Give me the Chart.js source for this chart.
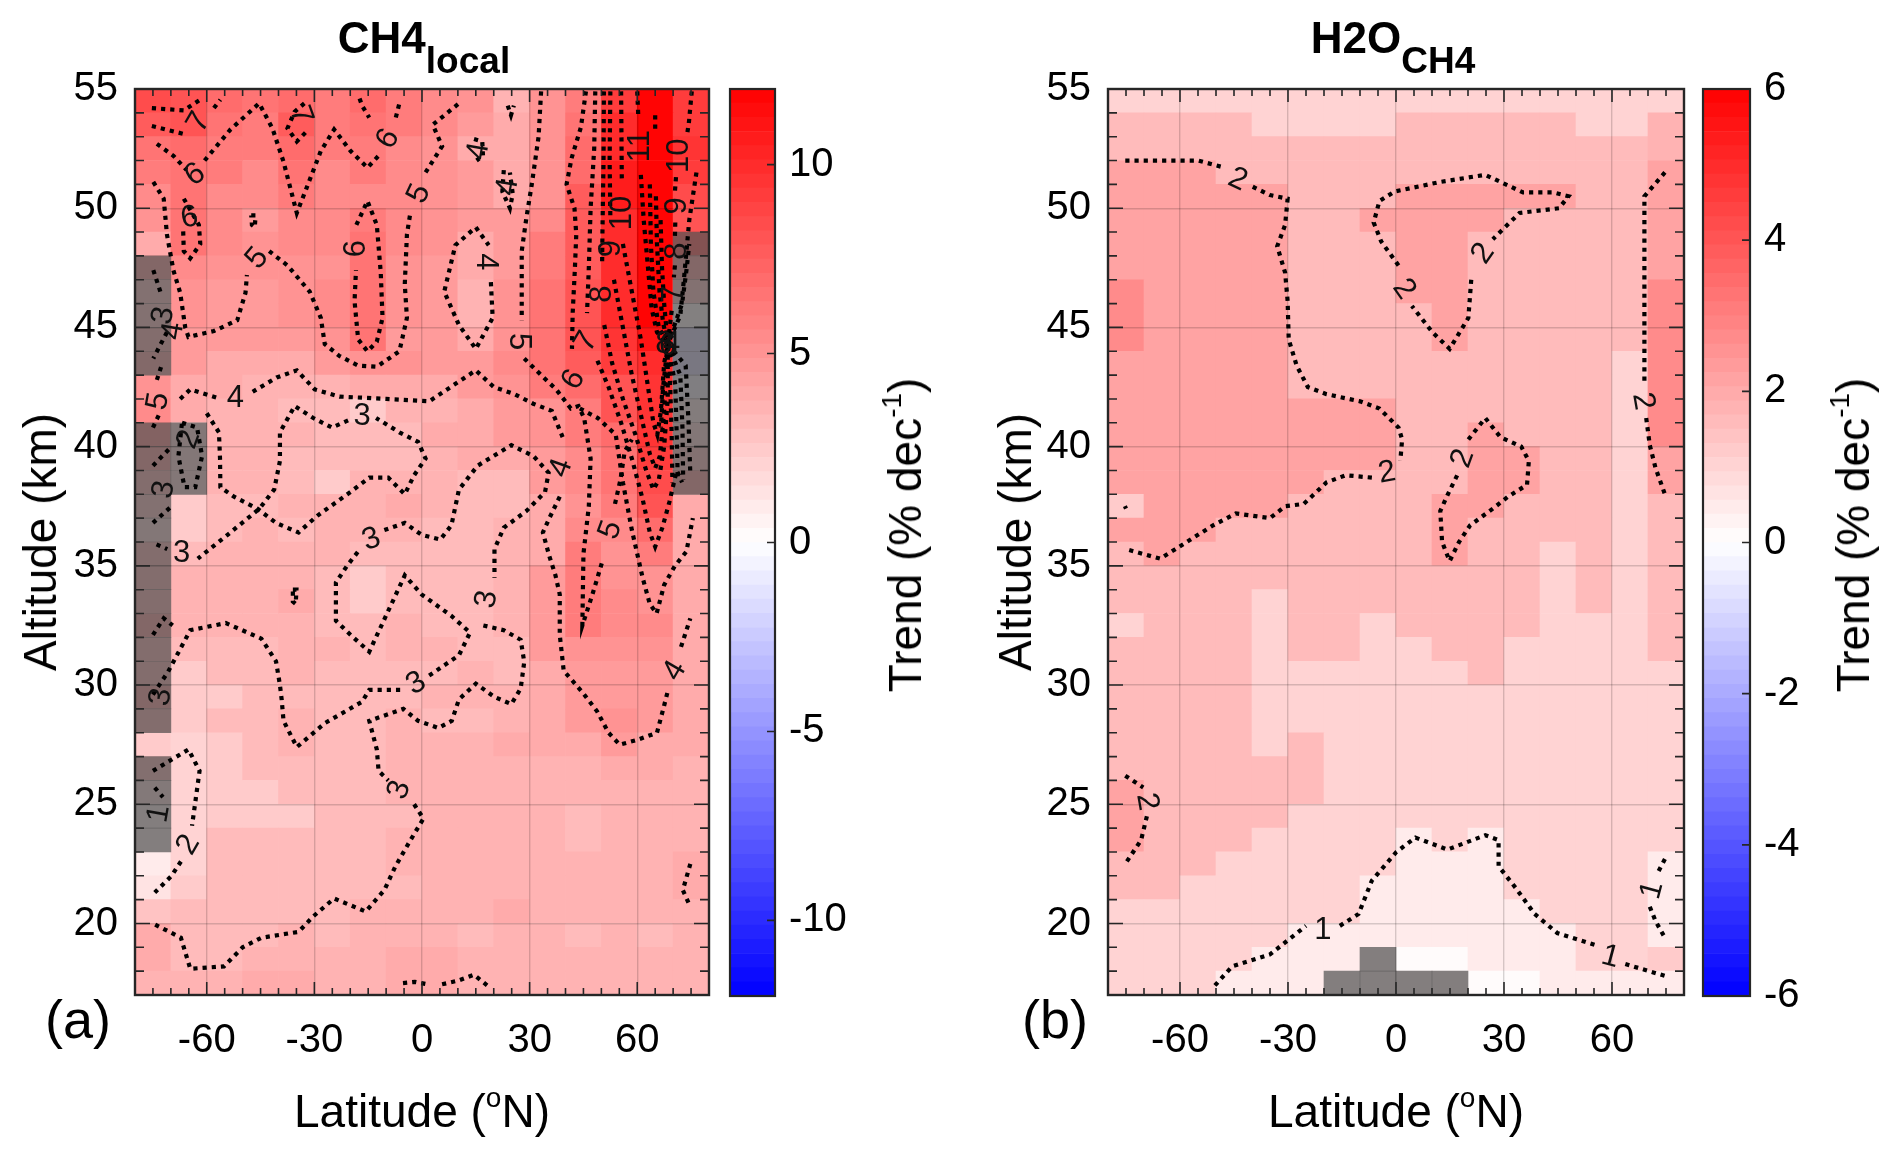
<!DOCTYPE html>
<html>
<head>
<meta charset="utf-8">
<script src="https://cdn.jsdelivr.net/npm/chart.js@4.4.1/dist/chart.umd.min.js"></script>
<style>
  body { margin: 0; background: #fff; width: 1892px; height: 1156px; position: relative; overflow: hidden;
         font-family: "Liberation Sans", Arial, Helvetica, sans-serif; color: #000; }
  .box { position: absolute; }
  .txt { position: absolute; white-space: nowrap; line-height: 1; }
  .rot { transform: translate(-50%, -50%) rotate(-90deg); }
  .title { font-weight: bold; font-size: 44px; text-align: center; }
  .title span { font-size: 37px; position: relative; top: 20px; }
  .axis { font-size: 46px; }
  .axis sup { font-size: 28px; position: relative; top: -4px; vertical-align: top; }
  .panel { font-size: 54px; }
</style>
</head>
<body>

<div class="box" style="left:0;top:0;width:720px;height:1156px"><canvas id="mapA" width="720" height="1156"></canvas></div>
<div class="box" style="left:725px;top:0;width:200px;height:1156px"><canvas id="barA" width="200" height="1156"></canvas></div>
<div class="box" style="left:975px;top:0;width:720px;height:1156px"><canvas id="mapB" width="720" height="1156"></canvas></div>
<div class="box" style="left:1698px;top:0;width:194px;height:1156px"><canvas id="barB" width="194" height="1156"></canvas></div>

<div class="txt title" style="left:0;width:848px;top:16px">CH4<span>local</span></div>
<div class="txt title" style="left:950px;width:886px;top:16px">H2O<span>CH4</span></div>
<div class="txt panel" style="left:45px;top:992px">(a)</div>
<div class="txt panel" style="left:1022px;top:992px">(b)</div>
<div class="txt axis" style="left:0;width:844px;top:1088px;text-align:center">Latitude (<sup>o</sup>N)</div>
<div class="txt axis" style="left:975px;width:842px;top:1088px;text-align:center">Latitude (<sup>o</sup>N)</div>
<div class="txt axis rot" style="left:40px;top:542px">Altitude (km)</div>
<div class="txt axis rot" style="left:1015px;top:542px">Altitude (km)</div>
<div class="txt axis rot" style="left:905px;top:535px">Trend (% dec<sup>-1</sup>)</div>
<div class="txt axis rot" style="left:1853px;top:535px">Trend (% dec<sup>-1</sup>)</div>

<script>
// grid of the two panels: 10 deg latitude bins, 1 km altitude bins
const latCenters = [-75, -65, -55, -45, -35, -25, -15, -5, 5, 15, 25, 35, 45, 55, 65, 75];
const altCenters = [54.5, 53.5, 52.5, 51.5, 50.5, 49.5, 48.5, 47.5, 46.5, 45.5, 44.5, 43.5, 42.5,
  41.5, 40.5, 39.5, 38.5, 37.5, 36.5, 35.5, 34.5, 33.5, 32.5, 31.5, 30.5, 29.5, 28.5, 27.5,
  26.5, 25.5, 24.5, 23.5, 22.5, 21.5, 20.5, 19.5, 18.5, 17.5];
const latTicks = [-60, -30, 0, 30, 60];
const altTicks = [20, 25, 30, 35, 40, 45, 50, 55];
const trendTicksCH4 = [-10, -5, 0, 5, 10];
const trendTicksH2O = [-6, -4, -2, 0, 2, 4, 6];

// (a) CH4 local trend, % per decade, rows top (54.5 km) to bottom (17.5 km)
const trendCH4 = [
  [8.5, 8, 7, 6.5, 7, 6, 7, 6, 5.5, 5, 3.5, 5, 6, 9, 12, 9],
  [7.5, 8, 6.5, 6, 7.5, 6, 6.5, 6, 5.5, 4.5, 4, 5, 6.5, 10, 12, 9],
  [6.5, 7, 6, 6, 7, 6, 6, 5.5, 5, 4, 4, 5, 7, 10, 12, 9.5],
  [6, 6.5, 6, 5.5, 6.5, 5.5, 6, 5.5, 5, 4.5, 4, 5, 7, 10.5, 12, 9],
  [5.5, 6.5, 5.5, 5.5, 6, 5.5, 5.5, 5.5, 5, 4.5, 4, 5, 7.5, 10.5, 12, 8.5],
  [5, 6.5, 5.5, 4.5, 5.5, 5.5, 6, 5.5, 5, 4.5, 4.5, 5.5, 7.5, 10, 12, 8],
  [4, 6.5, 5.5, 5, 5.5, 5.5, 6.5, 5.5, 5, 4, 4.5, 6, 7.5, 10, 12, 9],
  [5, 5.5, 5, 5, 5, 5, 6.5, 5, 4.5, 4, 4.5, 6, 7.5, 10, 12, 5],
  [3, 5, 4.5, 4.5, 5, 5.5, 6.5, 5, 4.5, 3.5, 5, 6.5, 8, 10, 12, 3],
  [3, 5, 4.5, 4.5, 5, 5.5, 6.5, 5, 4.5, 3.5, 5, 6.5, 8, 10, 12, 0],
  [4, 4.5, 4.5, 4.5, 4.5, 5, 6.5, 4.5, 4.5, 4, 5, 6.5, 8, 9.5, 11, -2],
  [4.5, 4.5, 4, 4, 4, 4.5, 5, 5, 4.5, 4.5, 5.5, 6.5, 7.5, 9, 10, -2],
  [5, 4, 4, 3.5, 3.5, 3.5, 4, 4, 4, 4.5, 5, 6, 7, 8, 9.5, -0.5],
  [5.5, 4, 3.5, 3.5, 3, 3, 2.5, 3.5, 3.5, 4, 4.5, 5, 6, 8, 9.5, 1],
  [6, 2, 3.5, 3.5, 3.5, 3, 3, 3, 4, 4, 4.5, 5, 6, 7, 9.5, 2],
  [5, 2, 3.5, 3.5, 3, 3, 3, 3, 3.5, 4, 4, 4.5, 5.5, 6.5, 9, 3],
  [4, 2, 3.5, 3.5, 3, 2.5, 3.5, 3.5, 3.5, 3, 3, 4.5, 5.5, 6.5, 8.5, 5],
  [3, 2.5, 3, 3, 3.5, 3.5, 3.5, 4, 3.5, 3, 3, 4, 5, 6, 8, 4],
  [2, 2.5, 3, 3.5, 3, 3.5, 3.5, 3.5, 3, 3, 3.5, 4, 5.5, 5.5, 7, 4],
  [4, 3, 3.5, 3.5, 3.5, 3.5, 3, 3, 3, 3, 3.5, 4, 6, 5, 6, 4],
  [4, 3.5, 3.5, 3.5, 3.5, 3, 2.5, 3, 3, 3, 3.5, 4.5, 6, 5, 5, 4],
  [4, 3.5, 3.5, 3.5, 4, 3, 2.5, 3, 3, 3, 3.5, 4.5, 6, 5.5, 5, 4],
  [5, 3.5, 3.5, 3.5, 3.5, 3, 3, 3.5, 3, 3, 3.5, 4.5, 6, 5.5, 5.5, 4],
  [4, 3, 3, 3, 3.5, 3.5, 3, 3.5, 3.5, 3, 3, 4.5, 5, 5, 5, 4],
  [4, 2.5, 3, 3, 3.5, 3, 3, 3, 3, 3.5, 3, 4, 4.5, 4.5, 4.5, 4],
  [5, 2.5, 2.5, 3, 3, 3, 3, 3, 3.5, 3.5, 3.5, 4, 4.5, 4.5, 4.5, 4],
  [4, 2.5, 3, 3, 3.5, 3, 3, 3.5, 3, 3, 3.5, 4, 4.5, 5, 4.5, 4],
  [2.5, 2, 2.5, 3, 3.5, 3, 3, 3.5, 3.5, 3.5, 4, 4, 4, 4.5, 4, 4],
  [3.5, 2, 2.5, 3, 3, 3, 3, 3.5, 3.5, 3.5, 3.5, 3.5, 3.5, 4, 4, 3.5],
  [1.5, 2, 2.5, 2.5, 3, 3, 3, 3.5, 3.5, 3.5, 3.5, 3.5, 3.5, 3.5, 3.5, 3.5],
  [0.5, 2, 2.5, 2.5, 2.5, 3, 3, 3, 3.5, 3.5, 3.5, 3.5, 3, 3.5, 3.5, 3.5],
  [0.5, 2, 3, 3, 3, 3, 3, 3.5, 3.5, 3.5, 3.5, 3.5, 3, 3.5, 3.5, 3.5],
  [0.8, 2, 3, 3, 3, 3, 3, 3.5, 3.5, 3.5, 3.5, 3.5, 3.5, 3.5, 3.5, 4],
  [1.3, 2.5, 3, 3, 3, 3, 3, 3, 3.5, 3.5, 3.5, 3.5, 3.5, 3.5, 3.5, 4],
  [2.8, 3, 3, 3, 3, 3, 3.5, 3.5, 3.5, 3.5, 4, 3.5, 3.5, 3.5, 3.5, 3.5],
  [3.8, 3, 3, 3, 3.5, 3, 3.5, 3.5, 3.5, 3, 3.5, 3.5, 3, 3.5, 3, 3.5],
  [4, 3, 3, 3.5, 3.5, 3.5, 3.5, 4, 4, 3.5, 3.5, 3.5, 3.5, 3.5, 3.5, 3.5],
  [3.5, 3.5, 3.5, 4, 4, 3.5, 3.5, 4, 4, 3.5, 3.5, 3.5, 3.5, 3.5, 3.5, 3.5]
];

// (b) H2O from CH4 trend, % per decade
const trendH2O = [
  [1, 1, 1, 1, 1, 1, 1, 1, 1, 1, 1, 1, 1, 1, 1, 1],
  [1.6, 1.6, 1.6, 1.6, 1, 1, 1, 1, 1.6, 1.6, 1.6, 1.6, 1.6, 1, 1, 1.7],
  [1.6, 1.6, 1.6, 1.6, 1.6, 1.6, 1.6, 1.6, 1.6, 1.6, 1.6, 1.6, 1.6, 1.6, 1.6, 1.7],
  [2.1, 2.1, 2.1, 1.6, 1.6, 1.6, 1.6, 1.6, 1.6, 1.6, 1.6, 1.6, 1.6, 1.6, 1.6, 2.1],
  [2.1, 2.1, 2.1, 2.1, 2.1, 1.6, 1.6, 1.6, 2.1, 2.1, 2.1, 2.1, 2.1, 1.6, 1.6, 2.1],
  [2.1, 2.1, 2.1, 2.1, 2.1, 1.6, 1.6, 2.1, 2.1, 2.1, 2.1, 1.6, 1.6, 1.6, 1.6, 2.1],
  [2.1, 2.1, 2.1, 2.1, 2.1, 1.6, 1.6, 1.6, 2.1, 2.1, 1.6, 1.6, 1.6, 1.6, 1.6, 2.1],
  [2.1, 2.1, 2.1, 2.1, 2.1, 1.6, 1.6, 1.6, 2.1, 2.1, 1.6, 1.6, 1.6, 1.6, 1.6, 2.1],
  [2.7, 2.1, 2.1, 2.1, 2.1, 1.6, 1.6, 1.6, 2.1, 2.1, 1.6, 1.6, 1.6, 1.6, 1.6, 2.7],
  [2.7, 2.1, 2.1, 2.1, 2.1, 1.6, 1.6, 1.6, 1.6, 2.1, 1.6, 1.6, 1.6, 1.6, 1.6, 2.7],
  [2.7, 2.1, 2.1, 2.1, 2.1, 1.6, 1.6, 1.6, 1.6, 2.1, 1.6, 1.6, 1.6, 1.6, 1.6, 2.7],
  [2.1, 2.1, 2.1, 2.1, 2.1, 1.6, 1.6, 1.6, 1.6, 1.6, 1.6, 1.6, 1.6, 1.6, 1, 2.7],
  [2.1, 2.1, 2.1, 2.1, 2.1, 1.6, 1.6, 1.6, 1.6, 1.6, 1.6, 1.6, 1.6, 1.6, 1, 2.7],
  [2.1, 2.1, 2.1, 2.1, 2.1, 2.1, 2.1, 2.1, 1.6, 1.6, 1.6, 1.6, 1.6, 1.6, 1, 2.7],
  [2.1, 2.1, 2.1, 2.1, 2.1, 2.1, 2.1, 2.1, 1.6, 1.6, 2.1, 1.6, 1.6, 1.6, 1, 2.7],
  [2.1, 2.1, 2.1, 2.1, 2.1, 2.1, 2.1, 2.1, 1.6, 1.6, 2.1, 2.1, 1.6, 1.6, 1, 2.1],
  [2.1, 2.1, 2.1, 2.1, 2.1, 2.1, 1.6, 1.6, 1.6, 1.6, 2.1, 2.1, 1.6, 1.6, 1, 2.1],
  [1.3, 2.1, 2.1, 2.1, 2.1, 1.6, 1.6, 1.6, 1.6, 2.1, 2.1, 1.6, 1.6, 1.6, 1, 1.6],
  [2.1, 2.1, 2.1, 1.6, 1.6, 1.6, 1.6, 1.6, 1.6, 2.1, 1.6, 1.6, 1.6, 1.6, 1, 1.6],
  [1.6, 2.1, 1.6, 1.6, 1.6, 1.6, 1.6, 1.6, 1.6, 2.1, 1.6, 1.6, 1, 1.6, 1, 1.6],
  [1.6, 1.6, 1.6, 1.6, 1.6, 1.6, 1.6, 1.6, 1.6, 1.6, 1.6, 1.6, 1, 1.6, 1, 1.6],
  [1.6, 1.6, 1.6, 1.6, 1, 1.6, 1.6, 1.6, 1.6, 1.6, 1.6, 1.6, 1, 1.6, 1, 1.6],
  [1, 1.6, 1.6, 1.6, 1, 1.6, 1.6, 1, 1.6, 1.6, 1.6, 1.6, 1, 1, 1, 1.6],
  [1.6, 1.6, 1.6, 1.6, 1, 1.6, 1.6, 1, 1, 1.6, 1.6, 1, 1, 1, 1, 1.6],
  [1.6, 1.6, 1.6, 1.6, 1, 1, 1, 1, 1, 1, 1.6, 1, 1, 1, 1, 1],
  [1.6, 1.6, 1.6, 1.6, 1, 1, 1, 1, 1, 1, 1, 1, 1, 1, 1, 1],
  [1.6, 1.6, 1.6, 1.6, 1, 1, 1, 1, 1, 1, 1, 1, 1, 1, 1, 1],
  [1.6, 1.6, 1.6, 1.6, 1, 1.6, 1, 1, 1, 1, 1, 1, 1, 1, 1, 1],
  [1.6, 1.6, 1.6, 1.6, 1.6, 1.6, 1, 1, 1, 1, 1, 1, 1, 1, 1, 1],
  [2.1, 1.6, 1.6, 1.6, 1.6, 1.6, 1, 1, 1, 1, 1, 1, 1, 1, 1, 1],
  [2.1, 1.6, 1.6, 1.6, 1.6, 1, 1, 1, 1, 1, 1, 1, 1, 1, 1, 1],
  [2.1, 1.6, 1.6, 1.6, 1, 1, 1, 1, 0.5, 1, 0.5, 1, 1, 1, 1, 1],
  [1.6, 1.6, 1.6, 1, 1, 1, 1, 1, 0.5, 0.5, 0.5, 1, 1, 1, 1, 0.5],
  [1.6, 1.6, 1, 1, 1, 1, 1, 0.5, 0.5, 0.5, 0.5, 1, 1, 1, 1, 0.5],
  [1, 1, 1, 1, 1, 1, 1, 0.5, 0.5, 0.5, 0.5, 0.5, 1, 1, 1, 0.5],
  [1, 1, 1, 1, 1, 0.5, 0.5, 0.5, 0.5, 0.5, 0.5, 0.5, 0.5, 1, 1, 0.5],
  [1, 1, 1, 1, 0.5, 0.5, 0.5, 0.3, 0.1, 0.1, 0.5, 0.5, 0.5, 1, 1, 1.3],
  [1, 1, 1, 0.5, 0.5, 0.5, 0.3, 0.3, 0.3, 0.3, 0.1, 0.1, 0.5, 0.5, 0.5, 0.5]
];

// greyed-out bins: [latitude centre, altitude from, altitude to]
const maskCH4 = [[-75, 43, 48], [-75, 28, 41], [-75, 23, 27], [-65, 38, 41], [75, 38, 49]];
const maskH2O = [[-15, 17, 18], [-5, 17, 19], [5, 17, 18], [15, 17, 18]];

// contour lines, [latitude, altitude] points
const contoursCH4 = [
  [[-75.3, 54.2], [-66.4, 54.1], [-61.3, 54.6]],
  [[-75.3, 53.45], [-66, 53.1]],
  [[-58, 54.2], [-56.2, 54.55]],
  [[-73.9, 52.7], [-69.3, 52.2], [-65.6, 51.6]],
  [[-60.6, 52.0], [-53.4, 53.3], [-45.4, 54.4], [-41.7, 53.35], [-38.6, 51.95], [-34.9, 49.8], [-32.3, 50.8],
   [-28.2, 52.4], [-24.5, 53.3], [-19.9, 52.4], [-15.2, 51.7], [-12.1, 52.2]],
  [[-7.3, 53.8], [-6.3, 54.4]],
  [[-32.8, 54.4], [-35.5, 54.05], [-37.5, 53.35], [-34.9, 52.8], [-32.3, 53.2]],
  [[-17.4, 54.6], [-16.7, 54.3], [-14.7, 53.8]],
  [[-66.4, 50.4], [-62.2, 49.3], [-61.8, 48.5], [-64.6, 47.9], [-66.4, 48.2], [-66.6, 49.2]],
  [[-74.9, 51.1], [-72, 50.4], [-71.1, 48.9], [-69.3, 47.4], [-67.4, 46.45], [-66, 45], [-65.1, 44.6],
   [-58, 44.85], [-51.5, 45.3], [-49.2, 46.45], [-48.8, 47.2]],
  [[-42.6, 48.2], [-37.5, 47.6], [-31.3, 46.5], [-28.2, 45.4], [-27.1, 44.3], [-23, 43.8], [-17.8, 43.4],
   [-12.6, 43.35], [-6.3, 44], [-4.2, 45.4], [-4.8, 46.8], [-4.2, 48.9], [-3.2, 49.85]],
  [[1, 51.5], [5.6, 52.6], [3, 53.5], [10.3, 54.4]],
  [[-18.3, 49.3], [-15.2, 50.3], [-12.6, 49.3], [-11.5, 47.3], [-11, 45.4], [-12.6, 44.4], [-15.2, 44.0],
   [-17.8, 44.5], [-18.8, 46.1], [-18.4, 47.4]],
  [[15, 49.2], [18.6, 48.45]],
  [[19.2, 46.9], [19.7, 45.4], [15, 44.1], [10.3, 45.1], [6.2, 46.5], [9.3, 48.45], [15, 49.2]],
  [[14.5, 52.9], [16.8, 52.8], [17, 52.2], [15.2, 52.0]],
  [[22.8, 51.6], [22.4, 50.7], [24.5, 50.0], [25.3, 50.6], [24.5, 51.5]],
  [[23.9, 54.3], [24.8, 53.9], [25.6, 54.3]],
  [[-47.6, 49.7], [-46.4, 49.7], [-46.6, 49.2], [-47.4, 49.3], [-47.6, 49.7]],
  [[33.2, 54.9], [32.5, 53], [30.6, 51], [29.1, 49.6], [27.8, 48.2], [27.8, 46.5], [27.8, 45.3]],
  [[28.5, 43.7], [33.2, 43.0], [37.4, 42.4], [41.5, 41.6], [43.6, 41.7], [45.2, 41.2], [47, 39.5],
   [46.5, 37.5], [45, 35.5], [44.7, 32.5], [47.5, 33.8], [50.5, 35.3]],
  [[53.8, 37.6], [55.3, 38.6], [56.5, 39.8], [58.5, 40.3]],
  [[45.7, 54.9], [44.3, 53.4], [41.7, 52.1], [40.3, 51.0], [42.5, 50.0], [43, 48.9], [42.6, 47.4], [42, 45.6], [41.8, 44.1]],
  [[44, 41.6], [49, 41.2], [54, 40.5], [56, 38.5], [58.5, 36.5], [61.5, 34.5], [63.5, 33.4], [65.4, 33.0],
   [67.5, 34.2], [70.5, 35.0], [73.7, 35.6], [75.5, 37]],
  [[48.3, 54.9], [48, 52.5], [47, 50], [46.5, 47.5], [46, 45.6]],
  [[48.9, 43.6], [52, 42.5], [55.5, 41], [58.5, 39.5], [61.5, 37.8], [63.5, 36.4], [65, 35.8], [67, 36.6],
   [69, 37.7], [71, 39], [72.5, 38.5]],
  [[50.7, 54.9], [50.6, 52], [50.3, 49], [50.2, 47.6]],
  [[50.8, 45.1], [53, 43.5], [56, 42], [59.5, 40.5], [62.5, 39], [64.5, 38.2], [66, 38.6], [67.5, 40], [68.5, 42], [68.5, 44.3]],
  [[52.5, 54.9], [52.3, 52], [52.5, 49.6]],
  [[53.5, 47], [56, 45], [58.5, 43], [61.5, 41], [63.5, 39.7], [65, 39.1], [66.3, 39.6], [67.5, 41.5], [68.5, 44.3]],
  [[55.5, 54.9], [55.6, 53], [55.7, 51.1]],
  [[56, 48.5], [58.5, 46.5], [61, 44.5], [63, 42.5], [64.5, 41], [65.6, 40.5], [66.6, 41.5], [67.5, 43.5], [68.5, 44.3]],
  [[60, 54.9], [60.3, 53.8]],
  [[61, 51.4], [61.8, 49.5], [63, 47.5], [64, 45.8], [65.5, 44.8], [68.5, 44.3]],
  [[65, 53.9], [65, 53.2]],
  [[63.5, 51], [63.8, 48.5], [64.5, 46.5], [66, 45], [68.5, 44.3]],
  [[65.2, 50.5], [65.5, 48.5], [66.2, 46.5], [67.2, 45.2], [68.5, 44.3]],
  [[66.5, 49.5], [66.9, 47.5], [67.5, 46], [68.5, 44.3]],
  [[75.2, 54.9], [74.4, 53.6], [73.8, 53.0]],
  [[70.8, 51.3], [70.5, 50.7]],
  [[70.6, 49.4], [70.5, 48.8]],
  [[70.5, 47.6], [70.2, 47.1]],
  [[69.6, 45.7], [68.5, 44.3]],
  [[76.5, 51.5], [74.5, 49.5], [73, 47], [72, 45.5], [68.5, 44.3]],
  [[68.5, 44.3], [69.2, 42.5], [69.6, 40.5], [69.8, 38.5]],
  [[68.5, 44.3], [70.6, 42.6], [71, 40.5], [71.3, 38.6]],
  [[68.5, 44.3], [72, 43], [72.6, 40.8], [72.8, 38.6]],
  [[68.5, 44.3], [73.5, 43.4], [74.3, 41], [74.8, 38.8]],
  [[68.5, 44.3], [72.5, 46], [73.8, 47.5], [74.5, 48.5]],
  [[68.5, 44.3], [67.2, 42.5], [66.6, 40.8]],
  [[-67.4, 42.0], [-64.6, 42.4], [-56.2, 42.0]],
  [[-47.2, 42.3], [-40.5, 42.9], [-34.9, 43.2], [-29.9, 42.4], [-23, 42.1], [-10, 42.0], [2, 41.9], [8, 42.5],
   [15, 43.2], [20, 42.5], [25.8, 42.2], [31, 41.8], [36.2, 41.5], [39.2, 40.4]],
  [[38.4, 37.9], [35.5, 37.0], [33.7, 36.4], [35.5, 35.4], [37.2, 34.6], [38.4, 33.8], [38.4, 32.1], [39.5, 30.6],
   [44.7, 29.7], [48.8, 28.9], [52, 28], [55.1, 27.5], [60, 27.7], [65.5, 28.0], [67.6, 29.2], [68.6, 29.8]],
  [[72.2, 31.6], [74.8, 32.8]],
  [[-60, 41.4], [-56.6, 40.6], [-56.3, 39.5], [-56.2, 38.3], [-52.4, 37.9], [-45.9, 37.4], [-40.7, 36.8],
   [-34.4, 36.4], [-29.2, 37.1], [-19.9, 38.1], [-14.7, 38.7], [-9.4, 38.7], [-4.8, 38.0], [-2.2, 38.8],
   [1.0, 39.5], [-1.1, 40.2], [-6.3, 40.6], [-12.8, 41.2]],
  [[-20.6, 41.1], [-25.1, 40.8], [-30.3, 41.2], [-35.5, 41.7], [-39.6, 40.6], [-39.6, 39.4], [-41.2, 38.2],
   [-45.3, 37.4], [-54.2, 36.3], [-62.5, 35.3]],
  [[-66.9, 41.0], [-62.7, 40.8], [-61.3, 39.6], [-63.2, 38.3], [-66.2, 38.3], [-67.9, 39.6], [-66.9, 41.0]],
  [[-74.9, 47.4], [-72.5, 46.3]],
  [[-71.1, 44.8], [-74.9, 43.7]],
  [[-73.9, 42.8], [-72.6, 43.4]],
  [[-75, 40.8], [-72.8, 41.5]],
  [[-75, 39.2], [-70.5, 39.9]],
  [[-75, 36.8], [-69.8, 37.5]],
  [[-74, 35.9], [-71, 35.7]],
  [[-75, 32.1], [-72, 32.8], [-69.5, 32.5]],
  [[-75, 29.6], [-70.8, 30.55], [-64.6, 32.3], [-54.7, 32.6], [-44.8, 31.95], [-40.7, 31.0], [-39.6, 30.0],
   [-39.1, 29.37], [-38.6, 28.5], [-34.9, 27.4], [-27.1, 28.4], [-16.7, 29.3], [-14.7, 29.8], [-5.3, 29.8]],
  [[2, 30.4], [3.0, 30.5], [10.3, 31.25], [13.4, 32.2], [8.2, 32.9], [-0.1, 33.8], [-4.8, 34.6], [-14.7, 31.4],
   [-19.9, 32.1], [-24, 32.7], [-24, 34.3], [-20.9, 35.0], [-17.8, 35.6]],
  [[-10.5, 36.5], [-4.8, 36.8], [-0.1, 36.3], [5.1, 36.1], [8.2, 36.7], [10.3, 38.2], [15.5, 39.2], [24.9, 40.06],
   [31.1, 39.6], [35.3, 38.9], [34.3, 38.1], [29.1, 37.3], [22.8, 36.6], [20.2, 35.7], [20.2, 34.5]],
  [[17.1, 32.5], [22.8, 32.3], [27.5, 31.9], [28.5, 30.97], [27.5, 29.85], [24.9, 29.2], [20.2, 29.5], [15.0, 30.06],
   [10.3, 29.4], [8.3, 28.5], [4.6, 28.2], [-1.1, 28.5], [-5.2, 29.0], [-14.7, 28.5], [-12.6, 27.3], [-12.1, 26.4],
   [-9.4, 26.0]],
  [[-2.2, 25.0], [0.4, 24.4], [-3.2, 23.5], [-7.4, 22.4], [-10.5, 21.4], [-15.7, 20.5], [-24.5, 21.05], [-30.3, 20.3],
   [-34.4, 19.65], [-44.8, 19.4], [-50, 19.0], [-55.2, 18.2], [-64.6, 18.1], [-67.2, 19.4], [-75, 20.0]],
  [[-36, 34], [-35, 34], [-35.2, 33.4], [-36, 33.5], [-36, 34]],
  [[-75, 26.4], [-65.1, 27.3], [-62, 26.4], [-63, 25.3], [-64.1, 24.1]],
  [[-67.2, 22.6], [-69.8, 22.0], [-74.5, 21.3]],
  [[-74.5, 25.7], [-72.2, 25.3]],
  [[-5.3, 17.5], [-2, 17.55], [1.5, 17.45]],
  [[5.6, 17.45], [10, 17.6], [14.5, 17.85], [18.6, 17.35]],
  [[74.8, 22.5], [72.7, 21.4], [74.8, 20.7]]
];
const labelsCH4 = [
  ["7", -62.2, 53.6, -60], ["6", -63.2, 51.4, -35], ["6", -9.4, 52.9, -60], ["7", -33.8, 53.9, 70],
  ["6", -64.8, 49.6, -10], ["5", -45.9, 47.9, -50], ["5", -0.8, 50.6, -65], ["6", -18.3, 48.3, -90],
  ["4", 17.6, 47.75, 90], ["4", 15.8, 52.4, -80], ["4", 23.9, 50.9, -80], ["5", 27, 44.4, 90],
  ["5", 52.6, 36.5, -70], ["6", 42.3, 42.8, -60], ["7", 45.8, 44.4, -60], ["8", 50.3, 46.4, -90],
  ["9", 52.8, 48.3, -90], ["10", 55.8, 49.8, -90], ["11", 60.8, 52.6, -90], ["10", 71.8, 52.2, -90],
  ["9", 71.1, 50.1, -90], ["8", 71.1, 48.2, -90], ["7", 70.3, 46.4, -90], ["4", -52, 42, 0],
  ["4", 38.8, 39.1, -70], ["4", 70.5, 30.6, -60], ["3", -16.7, 41.25, 0], ["3", -67, 35.5, 0],
  ["2", -65, 40.3, -70], ["3", -72, 45.5, -80], ["4", -69.3, 44.85, -80], ["5", -73.5, 41.9, -80],
  ["3", -71.9, 38.2, -80], ["3", -72.7, 29.5, -80], ["3", -1.6, 30.06, -30], ["3", -14.1, 36.1, -20],
  ["3", 18.1, 33.6, -80], ["3", -6.3, 25.6, -70], ["2", -65.1, 23.3, -60], ["1", -73.3, 24.6, -80],
  ["8", 67.4, 44.3, 0], ["6", 68.5, 44.2, 0], ["4", 69.6, 44.3, 0]
];

const contoursH2O = [
  [[-75.2, 52.0], [-65, 52.0], [-55, 52.0], [-47.6, 51.7]],
  [[-39.8, 50.9], [-35, 50.55], [-30.1, 50.4], [-30.8, 49.3], [-33, 48.4], [-30.8, 47.3], [-30.1, 46.1],
   [-29.8, 44.5], [-27.6, 43.4], [-24.5, 42.5], [-19.3, 42.2], [-10, 41.9], [-4.6, 41.6], [0.7, 40.8],
   [1.7, 40.3], [1.2, 39.4]],
  [[-6.7, 38.7], [-14, 38.8], [-19.3, 38.5], [-25.6, 37.6], [-30.8, 37.5], [-35, 37.0], [-44.5, 37.2],
   [-50.8, 36.7], [-61.3, 35.7], [-65.5, 35.3], [-75, 35.7]],
  [[-75.3, 37.5], [-75.0, 37.4]],
  [[20.9, 47.0], [20.1, 45.4], [14.9, 44.1], [10.1, 44.8], [4.4, 45.9]],
  [[0.7, 47.6], [-4.1, 48.6], [-6.2, 49.4], [-4.6, 50.3], [-0.4, 50.7], [12.2, 51.1], [24.8, 51.4], [35.3, 50.66],
   [43.7, 50.66], [47.9, 50.5], [45.3, 50.0], [34.3, 49.8], [26.9, 48.7]],
  [[74.7, 51.5], [69, 50.5], [69, 46], [69, 42.7]],
  [[69.5, 41.2], [70.5, 40.06], [72.1, 39.1], [74.7, 38.0]],
  [[20.1, 40.3], [24.8, 41.2], [29, 40.4], [34.8, 40.0], [36.9, 39.4], [36.4, 38.4], [31.1, 37.9], [26.9, 37.4],
   [20.6, 36.7], [17.5, 36.0], [14.9, 35.2], [12.8, 36.0], [12.3, 37.3], [14.4, 38.0], [17, 38.8]],
  [[-75.2, 26.2], [-70.2, 25.7]],
  [[-69.2, 24.5], [-70.8, 23.5], [-75.2, 22.5]],
  [[-50.3, 17.4], [-45.5, 18.2], [-35, 18.7], [-25, 19.9]],
  [[-15.6, 19.9], [-10.4, 20.4], [-6.7, 21.8], [0.1, 23.0], [5.4, 23.6], [14.3, 23.1], [24.8, 23.7], [28.5, 23.5],
   [28.5, 22.4], [33.2, 21.5], [38.5, 20.4], [44.8, 19.6], [55.3, 19.1]],
  [[63.7, 18.3], [74.7, 17.8]],
  [[74.7, 22.7], [72.6, 22.1]],
  [[70.5, 20.7], [72.1, 20.1], [74.7, 19.4]]
];
const labelsH2O = [
  ["2", -44, 51.2, 25], ["2", -2.5, 38.9, -10], ["2", 24.2, 48.1, -55], ["2", 2.2, 46.6, 55],
  ["2", 68.6, 41.9, 80], ["2", 18.6, 39.5, -70], ["2", -69.2, 25.1, 80], ["1", -20.3, 19.7, 0],
  ["1", 59.5, 18.6, 15], ["1", 71.2, 21.4, -75]
];

const baseFont = '"Liberation Sans", Arial, Helvetica, sans-serif';
const levels = 64;

function trendColor(v, range) {
  let i = Math.floor((v + range) / (2 * range) * levels);
  i = Math.max(0, Math.min(levels - 1, i));
  return levelColor(i);
}

function levelColor(i) {
  const t = (i + 0.5) / levels * 2 - 1;
  if (t >= 0) {
    const g = Math.round(255 * (1 - t));
    return "rgb(255," + g + "," + g + ")";
  }
  const r = Math.round(255 * (1 + t));
  return "rgb(" + r + "," + r + ",255)";
}

// frame and inward ticks on all four sides, like the original plot
function framePlugin(minorX, minorY) {
  return {
    id: "frame",
    afterDraw(chart) {
      const { ctx, chartArea: a, scales } = chart;
      ctx.save();
      ctx.strokeStyle = "#262626";
      ctx.lineWidth = 1.6;
      ctx.beginPath();
      const tick = (v, major) => {
        const x = scales.x.getPixelForValue(v);
        const len = major ? 13 : 7;
        ctx.moveTo(x, a.bottom); ctx.lineTo(x, a.bottom - len);
        ctx.moveTo(x, a.top); ctx.lineTo(x, a.top + len);
      };
      const ytick = (v, major) => {
        const y = scales.y.getPixelForValue(v);
        const len = major ? 15 : 9;
        ctx.moveTo(a.left, y); ctx.lineTo(a.left + len, y);
        ctx.moveTo(a.right, y); ctx.lineTo(a.right - len, y);
      };
      minorX.forEach(v => tick(v, latTicks.includes(v)));
      minorY.forEach(v => ytick(v, altTicks.includes(v)));
      ctx.stroke();
      ctx.lineWidth = 2.4;
      ctx.strokeRect(a.left, a.top, a.right - a.left, a.bottom - a.top);
      ctx.restore();
    }
  };
}

function labelPlugin(labels) {
  return {
    id: "contourLabels",
    afterDatasetsDraw(chart) {
      const { ctx, scales } = chart;
      ctx.save();
      ctx.fillStyle = "#111";
      ctx.font = "31px " + baseFont;
      ctx.textAlign = "center";
      ctx.textBaseline = "middle";
      labels.forEach(([text, lat, alt, rot]) => {
        ctx.save();
        ctx.translate(scales.x.getPixelForValue(lat), scales.y.getPixelForValue(alt));
        ctx.rotate(rot * Math.PI / 180);
        ctx.fillText(text, 0, 0);
        ctx.restore();
      });
      ctx.restore();
    }
  };
}

function makeMap(id, rows, mask, range, contours, labels, yWidth, rightPad) {
  const cells = [], colors = [];
  rows.forEach((row, r) => row.forEach((v, c) => {
    cells.push({ x: latCenters[c], y: [altCenters[r] - 0.5, altCenters[r] + 0.5] });
    colors.push(trendColor(v, range));
  }));
  const masked = [];
  mask.forEach(([lat, a0, a1]) => {
    altCenters.filter(h => h > a0 && h < a1).forEach(h => masked.push({ x: lat, y: [h - 0.5, h + 0.5] }));
  });

  const datasets = [
    { type: "bar", data: cells, backgroundColor: colors, borderWidth: 0, barPercentage: 1,
      categoryPercentage: 1, grouped: false, order: 3 },
    { type: "bar", data: masked, backgroundColor: "rgba(92,90,90,0.76)", borderWidth: 0, barPercentage: 1,
      categoryPercentage: 1, grouped: false, order: 2 }
  ];
  contours.forEach(seg => datasets.push({
    type: "line",
    data: seg.map(p => ({ x: p[0], y: p[1] })),
    borderColor: "#000",
    borderWidth: 4.2,
    borderDash: [4.2, 5],
    borderCapStyle: "butt",
    pointRadius: 0,
    fill: false,
    tension: 0,
    order: 1
  }));

  const minorX = [];
  for (let v = -75; v <= 75; v += 5) minorX.push(v);
  const minorY = [];
  for (let v = 18; v <= 54; v += 1) minorY.push(v);

  return new Chart(document.getElementById(id), {
    type: "bar",
    data: { datasets },
    options: {
      responsive: false,
      animation: false,
      events: [],
      layout: { padding: { left: 0, top: 89, right: rightPad, bottom: 0 } },
      plugins: { legend: { display: false }, tooltip: { enabled: false } },
      scales: {
        x: {
          type: "linear", min: -80, max: 80, offset: false,
          afterBuildTicks: s => { s.ticks = latTicks.map(v => ({ value: v })); },
          afterFit: s => { s.height = 161; },
          grid: { color: "rgba(0,0,0,0.16)", lineWidth: 1.4, drawTicks: false, offset: false, z: 1 },
          border: { display: false },
          ticks: { color: "#000", font: { family: baseFont, size: 40 }, padding: 22, maxRotation: 0 }
        },
        y: {
          type: "linear", min: 17, max: 55,
          afterBuildTicks: s => { s.ticks = altTicks.map(v => ({ value: v })); },
          afterFit: s => { s.width = yWidth; },
          grid: { color: "rgba(0,0,0,0.16)", lineWidth: 1.4, drawTicks: false, z: 1 },
          border: { display: false },
          ticks: { color: "#000", font: { family: baseFont, size: 40 }, padding: 17 }
        }
      }
    },
    plugins: [labelPlugin(labels), framePlugin(minorX, minorY)]
  });
}

function makeColorbar(id, range, ticks, yWidth) {
  const datasets = [];
  for (let i = 0; i < levels; i++) {
    const lo = -range + i * 2 * range / levels;
    datasets.push({ data: [[lo, lo + 2 * range / levels]], backgroundColor: levelColor(i), borderWidth: 0,
      barPercentage: 1, categoryPercentage: 1, grouped: false });
  }
  return new Chart(document.getElementById(id), {
    type: "bar",
    data: { labels: [""], datasets },
    options: {
      responsive: false,
      animation: false,
      events: [],
      layout: { padding: { left: 5, top: 89, right: 0, bottom: 160 } },
      plugins: { legend: { display: false }, tooltip: { enabled: false } },
      scales: {
        x: { display: false },
        y: {
          position: "right", min: -range, max: range,
          afterBuildTicks: s => { s.ticks = ticks.map(v => ({ value: v })); },
          afterFit: s => { s.width = yWidth; },
          grid: { display: false, drawTicks: false },
          border: { display: false },
          ticks: { color: "#000", font: { family: baseFont, size: 40 }, padding: 14 }
        }
      }
    },
    plugins: [{
      id: "cbFrame",
      afterDraw(chart) {
        const { ctx, chartArea: a, scales } = chart;
        ctx.save();
        ctx.strokeStyle = "#262626";
        ctx.lineWidth = 1.6;
        ctx.beginPath();
        ticks.forEach(v => {
          const y = scales.y.getPixelForValue(v);
          ctx.moveTo(a.right, y); ctx.lineTo(a.right - 8, y);
        });
        ctx.stroke();
        ctx.lineWidth = 2.2;
        ctx.strokeRect(a.left, a.top, a.right - a.left, a.bottom - a.top);
        ctx.restore();
      }
    }]
  });
}

makeMap("mapA", trendCH4, maskCH4, 12, contoursCH4, labelsCH4, 135, 11);
makeColorbar("barA", 12, trendTicksCH4, 150);
makeMap("mapB", trendH2O, maskH2O, 6, contoursH2O, labelsH2O, 133, 11);
makeColorbar("barB", 6, trendTicksH2O, 142);
</script>
</body>
</html>
